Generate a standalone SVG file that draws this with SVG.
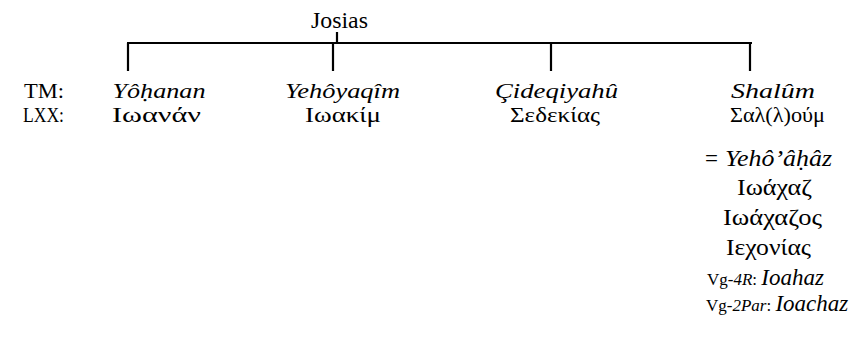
<svg xmlns="http://www.w3.org/2000/svg" width="855" height="341" viewBox="0 0 855 341">
<style>
text{font-family:"Liberation Serif","Times New Roman","DejaVu Serif",serif;font-size:23px;fill:#000}
.r{font-size:21.5px}
.i{font-style:italic}
.c{text-anchor:middle}
.s{font-size:17px}
.ln{stroke:#000;stroke-width:2.2;fill:none}
</style>
<rect width="855" height="341" fill="#fff"/>
<g id="connectors">
<path class="ln" d="M337 32V43M127 43H752M128 43V71M333 43V71M551 43V71M750 43V71"/>
</g>
<g id="josias"><text x="339.5" y="28" class="c" textLength="57" lengthAdjust="spacingAndGlyphs">Josias</text></g>
<g id="labels">
<text x="24" y="98" class="r" textLength="40" lengthAdjust="spacingAndGlyphs">TM:</text>
<text x="23" y="122" class="r" textLength="41" lengthAdjust="spacingAndGlyphs">LXX:</text>
</g>
<g id="yohanan">
<text x="159" y="98" class="r i c" textLength="93" lengthAdjust="spacingAndGlyphs">Yôḥanan</text>
<text x="156.5" y="122" class="r c" textLength="89" lengthAdjust="spacingAndGlyphs">Ιωανάν</text>
</g>
<g id="yehoyaqim">
<text x="342.5" y="98" class="r i c" textLength="115" lengthAdjust="spacingAndGlyphs">Yehôyaqîm</text>
<text x="343" y="122" class="r c" textLength="76" lengthAdjust="spacingAndGlyphs">Ιωακίμ</text>
</g>
<g id="cideqiyahu">
<text x="556.5" y="98" class="r i c" textLength="123" lengthAdjust="spacingAndGlyphs">Çideqiyahû</text>
<text x="555" y="122" class="r c" textLength="90" lengthAdjust="spacingAndGlyphs">Σεδεκίας</text>
</g>
<g id="shalum">
<text x="773" y="98" class="r i c" textLength="84" lengthAdjust="spacingAndGlyphs">Shalûm</text>
<text x="777.5" y="122" class="r c" textLength="95" lengthAdjust="spacingAndGlyphs">Σαλ(λ)ούμ</text>
<text x="705" y="166">=</text>
<text x="725" y="166" class="i" textLength="107" lengthAdjust="spacingAndGlyphs">Yehô’âḥâz</text>
<text x="774.5" y="195" class="c" textLength="75" lengthAdjust="spacingAndGlyphs">Ιωάχαζ</text>
<text x="772.5" y="225" class="c" textLength="99" lengthAdjust="spacingAndGlyphs">Ιωάχαζος</text>
<text x="768.5" y="255" class="c" textLength="85" lengthAdjust="spacingAndGlyphs">Ιεχονίας</text>
<text x="707" y="285"><tspan class="s">Vg-</tspan><tspan class="s i">4R</tspan><tspan class="s">: </tspan><tspan class="i">Ioahaz</tspan></text>
<text x="706" y="311"><tspan class="s">Vg-</tspan><tspan class="s i">2Par</tspan><tspan class="s">: </tspan><tspan class="i">Ioachaz</tspan></text>
</g>
</svg>
